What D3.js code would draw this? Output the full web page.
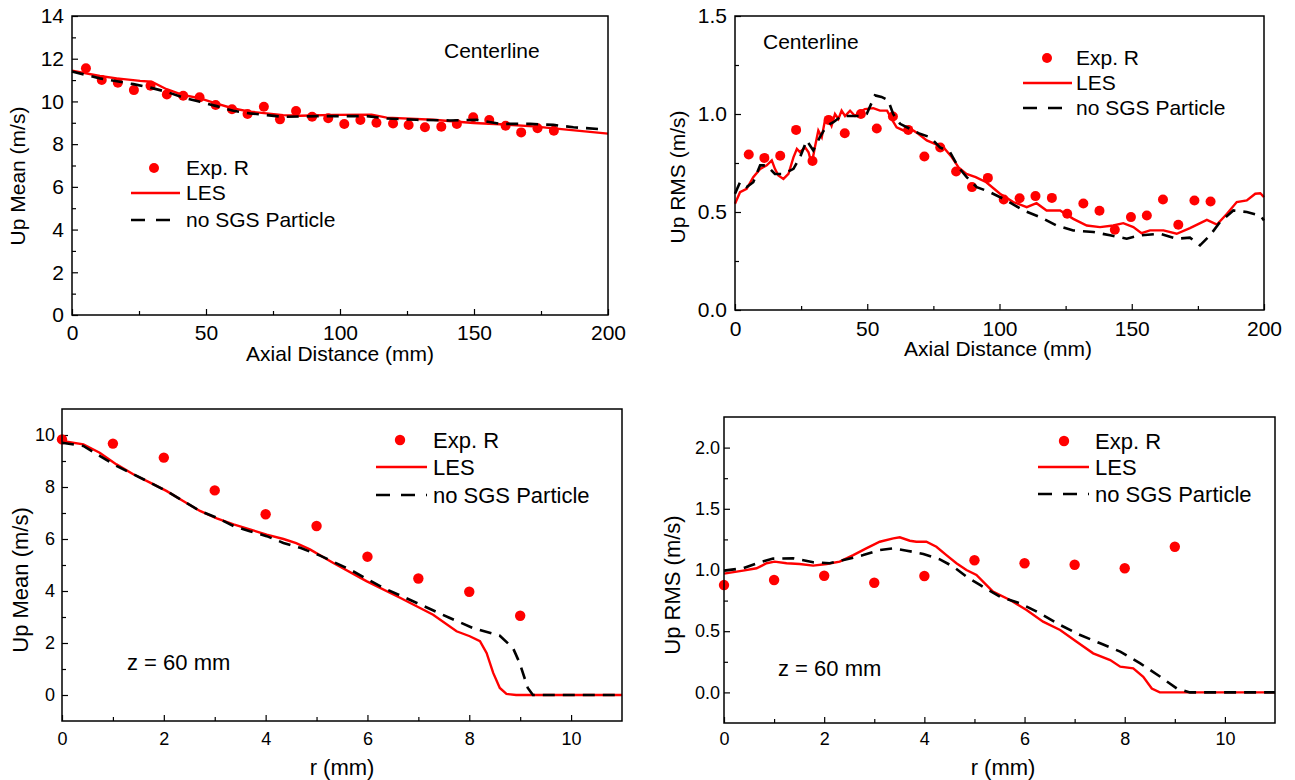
<!DOCTYPE html>
<html>
<head>
<meta charset="utf-8">
<script src="https://cdn.jsdelivr.net/npm/d3@7"></script>
<style>
  body { margin: 0; background: #fff; }
  text { font-family: "Liberation Sans", Arial, sans-serif; fill: #000; }
</style>
</head>
<body>
<script>
// ---- data ----
var seriesNames = ["Exp. R", "LES", "no SGS Particle"];

// centerline, axial distance (mm)
var axialExpX = [5.2, 11.1, 17.1, 23.1, 29.3, 35.4, 41.5, 47.6, 53.6, 59.7, 65.5, 71.6, 77.6, 83.6, 89.6,
                 95.6, 101.6, 107.6, 113.6, 119.8, 125.6, 131.7, 137.8, 143.6, 149.7, 155.7, 161.8, 167.6, 173.7, 179.8];
var meanExp = [11.55, 11.0, 10.88, 10.53, 10.73, 10.33, 10.27, 10.19, 9.83, 9.63, 9.41, 9.75, 9.16, 9.55, 9.28,
               9.21, 8.94, 9.13, 9.0, 8.97, 8.9, 8.79, 8.82, 8.94, 9.26, 9.13, 8.86, 8.55, 8.74, 8.63];
var meanLes = [[0, 11.44], [10.4, 11.19], [16.7, 11.08], [25.4, 10.96], [29.7, 10.92], [35.3, 10.57], [41.5, 10.3],
               [47.8, 10.14], [54, 9.9], [60.2, 9.67], [66.4, 9.52], [72.6, 9.44], [78.8, 9.36], [85.1, 9.33],
               [97.5, 9.37], [111.8, 9.38], [117.4, 9.24], [134.8, 9.14], [149.8, 8.99], [159.7, 8.93],
               [172.1, 8.83], [184.6, 8.68], [200, 8.49]];
var meanNoSgs = [[0, 11.4], [10.4, 11.08], [22.9, 10.81], [29.1, 10.65], [35.3, 10.45], [41.5, 10.18], [47.8, 9.98],
                 [54, 9.78], [60.2, 9.56], [66.4, 9.44], [72.6, 9.36], [78.8, 9.28], [91.3, 9.31], [97.5, 9.31],
                 [110, 9.31], [117.4, 9.2], [128.6, 9.14], [141, 9.11], [151, 9.14], [159.7, 8.95], [170.9, 8.95],
                 [179.6, 8.9], [187.1, 8.79], [196.4, 8.71]];

var rmsExp = [0.793, 0.776, 0.787, 0.919, 0.76, 0.97, 0.902, 1.0, 0.926, 0.987, 0.919, 0.783, 0.829, 0.707, 0.627,
              0.674, 0.564, 0.570, 0.581, 0.572, 0.491, 0.543, 0.506, 0.409, 0.474, 0.482, 0.564, 0.435, 0.559, 0.554];
var rmsLes = [[0, 0.542], [1.9, 0.601], [4.4, 0.618], [6.9, 0.678], [9.5, 0.72], [12, 0.738], [13.9, 0.763],
              [15.1, 0.72], [16.4, 0.686], [18.3, 0.669], [20.2, 0.694], [22.1, 0.779], [23.4, 0.822], [24.6, 0.805],
              [26.5, 0.83], [27.8, 0.805], [29, 0.745], [30.2, 0.83], [31.5, 0.916], [32.8, 0.882], [34, 0.967],
              [35.3, 0.975], [36.5, 0.94], [37.8, 1.0], [39.1, 0.975], [40.3, 1.017], [41.6, 0.99], [43.5, 1.017],
              [45.4, 0.99], [47.3, 1.01], [49.1, 1.025], [52.3, 1.03], [54.8, 1.017], [57.5, 1.017], [59.2, 0.975],
              [61.1, 0.932], [63.7, 0.916], [67.4, 0.916], [69.3, 0.899], [72.5, 0.865], [75.6, 0.848], [78.8, 0.83],
              [82, 0.779], [84.5, 0.728], [87.5, 0.694], [91, 0.678], [95, 0.652], [100.2, 0.593], [105.2, 0.551],
              [110.3, 0.525], [114, 0.545], [117.8, 0.508], [122.9, 0.508], [127.9, 0.465], [133, 0.431],
              [138, 0.423], [143, 0.431], [146.8, 0.443], [150.6, 0.423], [153.7, 0.392], [156.9, 0.406],
              [162, 0.406], [167, 0.389], [172, 0.418], [178.4, 0.46], [182.2, 0.436], [186, 0.491], [189.7, 0.551],
              [193.5, 0.559], [196.7, 0.593], [198.6, 0.596], [200, 0.576]];
var rmsNoSgs = [[0, 0.593], [1.9, 0.652], [4.4, 0.627], [6.9, 0.652], [9.5, 0.738], [12, 0.738], [15.1, 0.694],
                [18.3, 0.694], [22.1, 0.72], [24.6, 0.78], [27.1, 0.865], [29.6, 0.814], [32.1, 0.882], [34.6, 0.94],
                [37.2, 0.958], [40.3, 0.99], [43.5, 0.99], [47.3, 0.99], [49.8, 1.0], [52.9, 1.095], [55.4, 1.087],
                [57.9, 1.07], [59.8, 1.0], [62.4, 0.95], [66.2, 0.924], [69.9, 0.899], [73.7, 0.882], [77.5, 0.83],
                [81.3, 0.805], [84.5, 0.728], [87.6, 0.678], [91.4, 0.627], [95.8, 0.605], [102.7, 0.559],
                [109, 0.508], [115.3, 0.474], [121.6, 0.431], [127.9, 0.406], [135.5, 0.398], [141.8, 0.381],
                [148.1, 0.364], [153.2, 0.381], [160.7, 0.389], [167, 0.364], [172, 0.369], [175.8, 0.33],
                [179.6, 0.381], [183.4, 0.449], [188.4, 0.508], [193.5, 0.5], [198.6, 0.482], [200, 0.457]];

// radial profiles at z = 60 mm, r (mm)
var radialExpX = [0, 1, 2, 3, 4, 5, 6, 7, 8, 9];
var radMeanExp = [9.83, 9.67, 9.13, 7.87, 6.95, 6.5, 5.32, 4.48, 3.97, 3.05];
var radMeanLes = [[0, 9.77], [0.42, 9.64], [0.74, 9.32], [1.07, 8.87], [1.4, 8.49], [1.73, 8.17], [2.05, 7.85],
                  [2.38, 7.46], [2.71, 7.08], [3.04, 6.79], [3.37, 6.56], [3.69, 6.37], [4.02, 6.17], [4.35, 6.0],
                  [4.6, 5.84], [4.87, 5.6], [5.33, 5.08], [5.98, 4.38], [6.64, 3.74], [7.29, 3.09], [7.75, 2.45],
                  [8.01, 2.26], [8.21, 2.07], [8.34, 1.62], [8.47, 0.85], [8.6, 0.27], [8.73, 0.04], [8.92, 0], [11, 0]];
var radMeanNoSgs = [[0, 9.7], [0.42, 9.58], [0.74, 9.2], [1.07, 8.81], [1.4, 8.49], [1.73, 8.17], [2.05, 7.85],
                    [2.38, 7.46], [2.71, 7.08], [3.04, 6.82], [3.37, 6.5], [3.69, 6.3], [4.02, 6.11], [4.35, 5.85],
                    [4.68, 5.66], [5.07, 5.36], [5.66, 4.82], [6.31, 4.12], [6.97, 3.54], [7.62, 2.96], [8.08, 2.57],
                    [8.6, 2.28], [8.86, 1.8], [8.99, 1.23], [9.15, 0.27], [9.25, 0], [11, 0]];

var radRmsExp = [0.877, 0.918, 0.953, 0.896, 0.951, 1.08, 1.055, 1.043, 1.014, 1.19];
var radRmsLes = [[0, 0.97], [0.38, 0.995], [0.65, 1.014], [0.85, 1.055], [1.01, 1.068], [1.25, 1.055],
                 [1.51, 1.049], [1.78, 1.036], [2.05, 1.049], [2.31, 1.068], [2.58, 1.122], [2.84, 1.177],
                 [3.11, 1.231], [3.38, 1.258], [3.51, 1.267], [3.71, 1.239], [3.84, 1.231], [4.04, 1.231],
                 [4.24, 1.19], [4.44, 1.122], [4.64, 1.055], [4.84, 1.0], [5.04, 0.959], [5.37, 0.823],
                 [5.71, 0.755], [6.04, 0.673], [6.37, 0.578], [6.71, 0.51], [7.04, 0.414], [7.37, 0.319],
                 [7.71, 0.264], [7.91, 0.21], [8.17, 0.196], [8.37, 0.128], [8.54, 0.032], [8.7, 0], [11, 0]];
var radRmsNoSgs = [[0, 0.995], [0.38, 1.014], [0.71, 1.063], [0.98, 1.093], [1.38, 1.096], [1.78, 1.063],
                   [2.11, 1.055], [2.45, 1.087], [2.78, 1.122], [3.11, 1.163], [3.38, 1.177], [3.65, 1.158],
                   [3.98, 1.131], [4.31, 1.087], [4.58, 1.027], [4.84, 0.946], [5.11, 0.878], [5.51, 0.782],
                   [5.91, 0.728], [6.31, 0.646], [6.71, 0.551], [7.11, 0.469], [7.51, 0.401], [7.91, 0.333],
                   [8.31, 0.237], [8.71, 0.128], [9.04, 0.032], [9.3, 0], [11, 0]];

var axialTicks = [0, 50, 100, 150, 200], axialMinor = [25, 75, 125, 175];
var radialTicks = [0, 2, 4, 6, 8, 10], radialMinor = [1, 3, 5, 7, 9];
var meanTicks = [0, 2, 4, 6, 8, 10, 12, 14], meanMinor = [1, 3, 5, 7, 9, 11, 13];
var rmsTicks = [0, 0.5, 1.0, 1.5], rmsMinor = [0.25, 0.75, 1.25];
var radMeanTicks = [0, 2, 4, 6, 8, 10], radMeanMinor = [1, 3, 5, 7, 9];
var radRmsTicks = [0, 0.5, 1.0, 1.5, 2.0], radRmsMinor = [0.25, 0.75, 1.25, 1.75];

var RED = "#ff0000";

var svg = d3.select("body").append("svg")
  .attr("width", 1295).attr("height", 780);

function drawPanel(p) {
  var x = d3.scaleLinear().domain(p.xDomain).range([p.left, p.right]);
  var y = d3.scaleLinear().domain(p.yDomain).range([p.bottom, p.top]);
  var g = svg.append("g");

  // axes, ticks inside
  g.append("g").attr("transform", "translate(0," + p.bottom + ")")
    .call(d3.axisBottom(x).tickValues(p.xTicks).tickSize(-6).tickPadding(p.xPad).tickFormat(d3.format("d")))
    .call(a => a.selectAll("text").style("font-size", p.tickFont + "px"));
  g.append("g").attr("transform", "translate(0," + p.bottom + ")")
    .call(d3.axisBottom(x).tickValues(p.xMinor).tickSize(-4).tickFormat(""));
  g.append("g").attr("transform", "translate(" + p.left + ",0)")
    .call(d3.axisLeft(y).tickValues(p.yTicks).tickSize(-6).tickPadding(p.yPad).tickFormat(d3.format(p.yFmt)))
    .call(a => a.selectAll("text").style("font-size", p.tickFont + "px"));
  g.append("g").attr("transform", "translate(" + p.left + ",0)")
    .call(d3.axisLeft(y).tickValues(p.yMinor).tickSize(-4).tickFormat(""));
  g.selectAll(".domain").remove();
  g.selectAll(".tick line").attr("stroke", "#000").attr("stroke-width", 1.2);
  g.selectAll(".tick text").attr("fill", "#000").attr("font-family", null);

  var plot = g.append("g");
  plot.selectAll("circle").data(p.expX).enter().append("circle")
    .attr("cx", d => x(d)).attr("cy", (d, i) => y(p.expY[i]))
    .attr("r", p.dotR).attr("fill", RED);

  var line = d3.line().x(d => x(d[0])).y(d => y(d[1]));
  plot.append("path").datum(p.les).attr("d", line)
    .attr("fill", "none").attr("stroke", RED).attr("stroke-width", 2.4);
  plot.append("path").datum(p.noSgs).attr("d", line)
    .attr("fill", "none").attr("stroke", "#000").attr("stroke-width", 2.6)
    .attr("stroke-dasharray", "12,8");

  g.append("rect").attr("x", p.left).attr("y", p.top)
    .attr("width", p.right - p.left).attr("height", p.bottom - p.top)
    .attr("fill", "none").attr("stroke", "#000").attr("stroke-width", 1.5);

  // titles
  g.append("text").attr("x", p.xLab[0]).attr("y", p.xLab[1]).attr("dy", "0.35em")
    .attr("text-anchor", "middle").style("font-size", p.labFont + "px").text(p.xTitle);
  g.append("text").attr("transform", "translate(" + p.yLab[0] + "," + p.yLab[1] + ") rotate(-90)")
    .attr("dy", "0.35em").attr("text-anchor", "middle").style("font-size", p.labFont + "px").text(p.yTitle);
  g.append("text").attr("x", p.note[0]).attr("y", p.note[1]).attr("dy", "0.35em")
    .style("font-size", p.labFont + "px").text(p.noteText);

  // legend
  var L = p.legend;
  g.append("circle").attr("cx", L.dot).attr("cy", L.ys[0]).attr("r", p.dotR).attr("fill", RED);
  g.append("line").attr("x1", L.x1).attr("x2", L.x2).attr("y1", L.ys[1]).attr("y2", L.ys[1])
    .attr("stroke", RED).attr("stroke-width", 2.4);
  g.append("line").attr("x1", L.x1).attr("x2", L.x2).attr("y1", L.ys[2]).attr("y2", L.ys[2])
    .attr("stroke", "#000").attr("stroke-width", 2.6).attr("stroke-dasharray", "14,11");
  seriesNames.forEach(function (s, i) {
    g.append("text").attr("x", L.tx).attr("y", L.ys[i]).attr("dy", "0.35em")
      .style("font-size", p.legFont + "px").text(s);
  });
}

drawPanel({
  left: 72, right: 608, top: 16, bottom: 315,
  xDomain: [0, 200], yDomain: [0, 14],
  xTicks: axialTicks, xMinor: axialMinor, yTicks: meanTicks, yMinor: meanMinor, yFmt: "d",
  xPad: 10, yPad: 8, tickFont: 21, labFont: 21, legFont: 21, dotR: 5,
  expX: axialExpX, expY: meanExp, les: meanLes, noSgs: meanNoSgs,
  xTitle: "Axial Distance (mm)", xLab: [340, 354],
  yTitle: "Up Mean (m/s)", yLab: [18, 176],
  noteText: "Centerline", note: [444, 51],
  legend: { dot: 154, x1: 131, x2: 180, tx: 186, ys: [168, 193, 220] }
});

drawPanel({
  left: 735, right: 1264, top: 16, bottom: 310,
  xDomain: [0, 200], yDomain: [0, 1.5],
  xTicks: axialTicks, xMinor: axialMinor, yTicks: rmsTicks, yMinor: rmsMinor, yFmt: ".1f",
  xPad: 11, yPad: 8, tickFont: 21, labFont: 21, legFont: 21, dotR: 5,
  expX: axialExpX, expY: rmsExp, les: rmsLes, noSgs: rmsNoSgs,
  xTitle: "Axial Distance (mm)", xLab: [998, 349],
  yTitle: "Up RMS (m/s)", yLab: [678, 177],
  noteText: "Centerline", note: [763, 42],
  legend: { dot: 1047, x1: 1023, x2: 1072, tx: 1076, ys: [58, 83, 108] }
});

drawPanel({
  left: 62, right: 622, top: 409, bottom: 721,
  xDomain: [0, 11], yDomain: [-1, 11],
  xTicks: radialTicks, xMinor: radialMinor, yTicks: radMeanTicks, yMinor: radMeanMinor, yFmt: "d",
  xPad: 11, yPad: 7, tickFont: 18, labFont: 22, legFont: 22, dotR: 5.2,
  expX: radialExpX, expY: radMeanExp, les: radMeanLes, noSgs: radMeanNoSgs,
  xTitle: "r (mm)", xLab: [342, 767],
  yTitle: "Up Mean (m/s)", yLab: [20, 580],
  noteText: "z = 60 mm", note: [127, 662],
  legend: { dot: 400, x1: 376, x2: 427, tx: 433, ys: [440, 467, 495] }
});

drawPanel({
  left: 724, right: 1275, top: 417, bottom: 723,
  xDomain: [0, 11], yDomain: [-0.25, 2.25],
  xTicks: radialTicks, xMinor: radialMinor, yTicks: radRmsTicks, yMinor: radRmsMinor, yFmt: ".1f",
  xPad: 9, yPad: 4, tickFont: 18, labFont: 22, legFont: 22, dotR: 5.2,
  expX: radialExpX, expY: radRmsExp, les: radRmsLes, noSgs: radRmsNoSgs,
  xTitle: "r (mm)", xLab: [1003, 767],
  yTitle: "Up RMS (m/s)", yLab: [672, 585],
  noteText: "z = 60 mm", note: [778, 668],
  legend: { dot: 1064, x1: 1038, x2: 1089, tx: 1095, ys: [441, 467, 494] }
});
</script>
</body>
</html>
